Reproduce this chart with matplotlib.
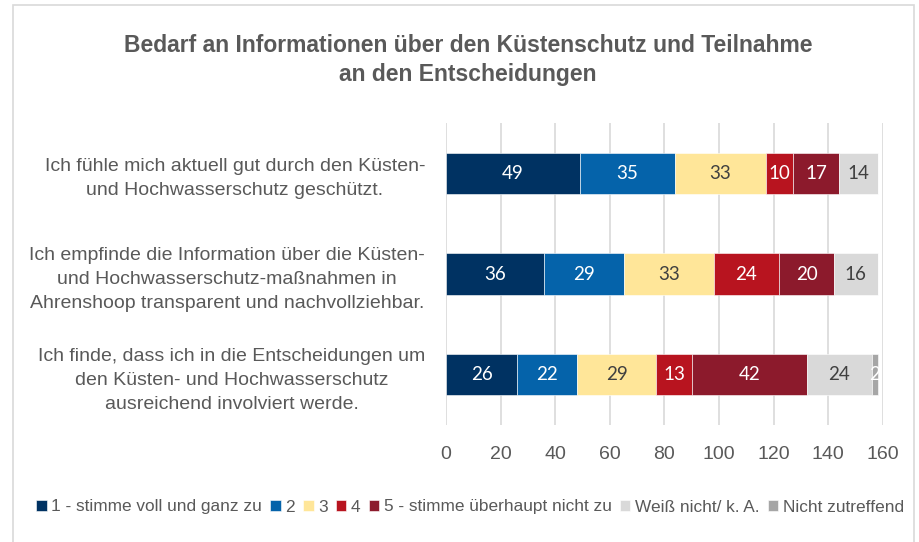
import matplotlib.pyplot as plt
from matplotlib.patches import Rectangle
import numpy as np

categories = [
    "Ich fühle mich aktuell gut durch den Küsten-\nund Hochwasserschutz geschützt.",
    "Ich empfinde die Information über die Küsten-\nund Hochwasserschutz-maßnahmen in\nAhrenshoop transparent und nachvollziehbar.",
    "Ich finde, dass ich in die Entscheidungen um\nden Küsten- und Hochwasserschutz\nausreichend involviert werde.",
]
series_names = ["1 - stimme voll und ganz zu", "2", "3", "4",
                "5 - stimme überhaupt nicht zu", "Weiß nicht/ k. A.", "Nicht zutreffend"]
values = [
    [49, 36, 26],
    [35, 29, 22],
    [33, 33, 29],
    [10, 24, 13],
    [17, 20, 42],
    [14, 16, 24],
    [0, 0, 2],
]
colors = ["#003262", "#0563AA", "#FFE699", "#B8141F", "#8C1A2C", "#D9D9D9", "#A6A6A6"]
label_colors = ["white", "white", "#404040", "white", "white", "#404040", "white"]
ticks = [0, 20, 40, 60, 80, 100, 120, 140, 160]

plt.rcParams['font.family'] = ['Liberation Sans', 'DejaVu Sans']
grey = "#595959"

fig = plt.figure(figsize=(9.2, 5.42), dpi=100)
# light frame around the chart area
fig.patches.append(Rectangle((13 / 920, -0.05), 901 / 920, 1.04, transform=fig.transFigure,
                             facecolor="none", edgecolor="#D9D9D9", linewidth=1.2))
ax = fig.add_axes([446 / 920, 1 - 425 / 542, 437 / 920, 302 / 542])

y = np.arange(len(categories))
left = np.zeros(len(categories))
for i, (name, vals) in enumerate(zip(series_names, values)):
    vals = np.array(vals, dtype=float)
    bars = ax.barh(y, vals, left=left, height=0.41, color=colors[i], label=name,
                   edgecolor="white", linewidth=0.4, zorder=3)
    for b, v in zip(bars, vals):
        if v > 0:
            ax.text(b.get_x() + b.get_width() / 2, b.get_y() + b.get_height() / 2, f"{int(v)}",
                    ha="center", va="center", color=label_colors[i], fontsize=13.5,
                    family=["Lato", "DejaVu Sans"], zorder=4)
    left += vals

ax.set_xlim(0, 160)
ax.set_ylim(2.5, -0.5)
ax.set_xticks(ticks)
ax.set_yticks(y)
ax.set_yticklabels(categories, fontsize=14, color=grey, ha="right",
                   multialignment="center", linespacing=1.55)
ax.tick_params(axis="y", length=0, pad=15)
ax.tick_params(axis="x", length=0, pad=15, labelsize=14, labelcolor=grey)
ax.grid(axis="x", color="#D9D9D9", linewidth=1.2, zorder=0)
for s in ax.spines.values():
    s.set_visible(False)

fig.text(468 / 920, 1 - 45 / 542, "Bedarf an Informationen über den Küstenschutz und Teilnahme",
         ha="center", va="center", fontsize=16.5, fontweight="bold", color=grey)
fig.text(468 / 920, 1 - 75 / 542, "an den Entscheidungen",
         ha="center", va="center", fontsize=16.5, fontweight="bold", color=grey)

leg = fig.legend(loc="center", bbox_to_anchor=(470 / 920, 1 - 507 / 542), ncol=7, frameon=False,
                 handlelength=0.6, handleheight=0.6, handletextpad=0.25, columnspacing=0.5,
                 prop={"size": 12.4})
for t in leg.get_texts():
    t.set_color(grey)

fig.savefig("out.png", dpi=100)
